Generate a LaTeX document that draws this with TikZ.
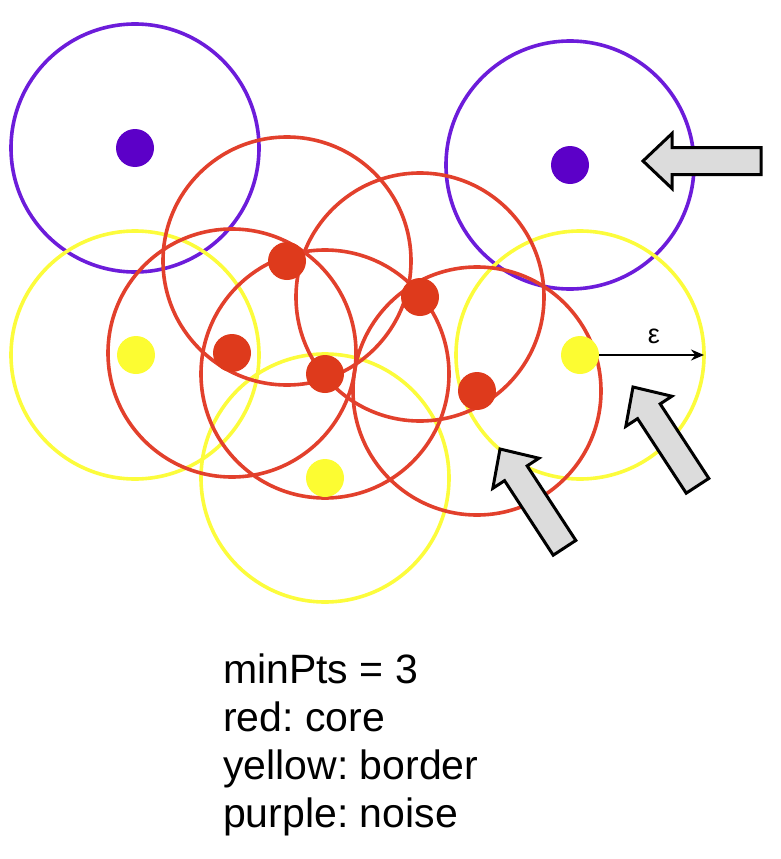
\documentclass[tikz,border=0pt]{standalone}
\usepackage{fontspec}
\setmainfont{Liberation Sans}
\usetikzlibrary{arrows.meta}
\definecolor{cpurple}{RGB}{108,28,218}
\definecolor{dpurple}{RGB}{92,0,200}
\definecolor{cred}{RGB}{226,64,44}
\definecolor{dred}{RGB}{222,58,28}
\definecolor{cyellow}{RGB}{252,252,60}
\definecolor{dyellow}{RGB}{252,252,50}
\definecolor{agray}{RGB}{220,220,220}
\tikzset{
  ring/.style={circle,draw=#1,line width=3.6pt,minimum size=248pt,inner sep=0pt},
  dot/.style={circle,fill=#1,minimum size=38pt,inner sep=0pt},
  blockarrow/.style={draw=black,fill=agray,line width=3pt,line join=miter},
  legend/.style={anchor=base west,font=\fontsize{41}{48}\selectfont,inner sep=0pt}
}
\begin{document}
\frenchspacing
\begin{tikzpicture}[x=1pt,y=-1pt]
\useasboundingbox (0,0) rectangle (781,859);
% rings
\node[ring=cpurple] (r1) at (135,148) {};
\node[ring=cpurple] (r2) at (570,165) {};
\node[ring=cyellow] (r3) at (135,355) {};
\node[ring=cyellow] (r4) at (325,478) {};
\node[ring=cyellow] (r5) at (580,355) {};
\node[ring=cred] (r6) at (287,261) {};
\node[ring=cred] (r7) at (232,353) {};
\node[ring=cred] (r8) at (420,297) {};
\node[ring=cred] (r9) at (325,374) {};
\node[ring=cred] (r10) at (477,391) {};
% dots
\node[dot=dpurple] (p1) at (135,148) {};
\node[dot=dpurple] (p2) at (570,165) {};
\node[dot=dyellow] (y1) at (136,355) {};
\node[dot=dyellow] (y2) at (325,478) {};
\node[dot=dyellow] (y3) at (580,355) {};
\node[dot=dred] (c1) at (287,261) {};
\node[dot=dred] (c2) at (232,353) {};
\node[dot=dred] (c3) at (420,297) {};
\node[dot=dred] (c4) at (325,374) {};
\node[dot=dred] (c5) at (477,391) {};
% epsilon
\coordinate (eend) at (704,355);
\draw[line width=1.8pt,-{Stealth[length=13pt,width=11pt]}] (y3.east) -- (eend);
\node[font=\fontsize{27}{28}\selectfont] (eps) at (654,336) {ε};
% block arrows (tip at origin, pointing to -x)
\def\barrow{(0,0) -- (29,-27.5) -- (29,-13.5) -- (118,-13.5) -- (118,13.5) -- (29,13.5) -- (29,27.5) -- cycle}
\draw[blockarrow,shift={(643,161)}] \barrow;
\draw[blockarrow,shift={(633,387)},rotate=-56.85] \barrow;
\draw[blockarrow,shift={(500,449)},rotate=-56.85] \barrow;
% legend
\node[legend] (l1) at (223,683) {minPts = 3};
\node[legend] (l2) at (223,731) {red: core};
\node[legend] (l3) at (223,779) {yellow: border};
\node[legend] (l4) at (223,827) {purple: noise};
\end{tikzpicture}
\end{document}
